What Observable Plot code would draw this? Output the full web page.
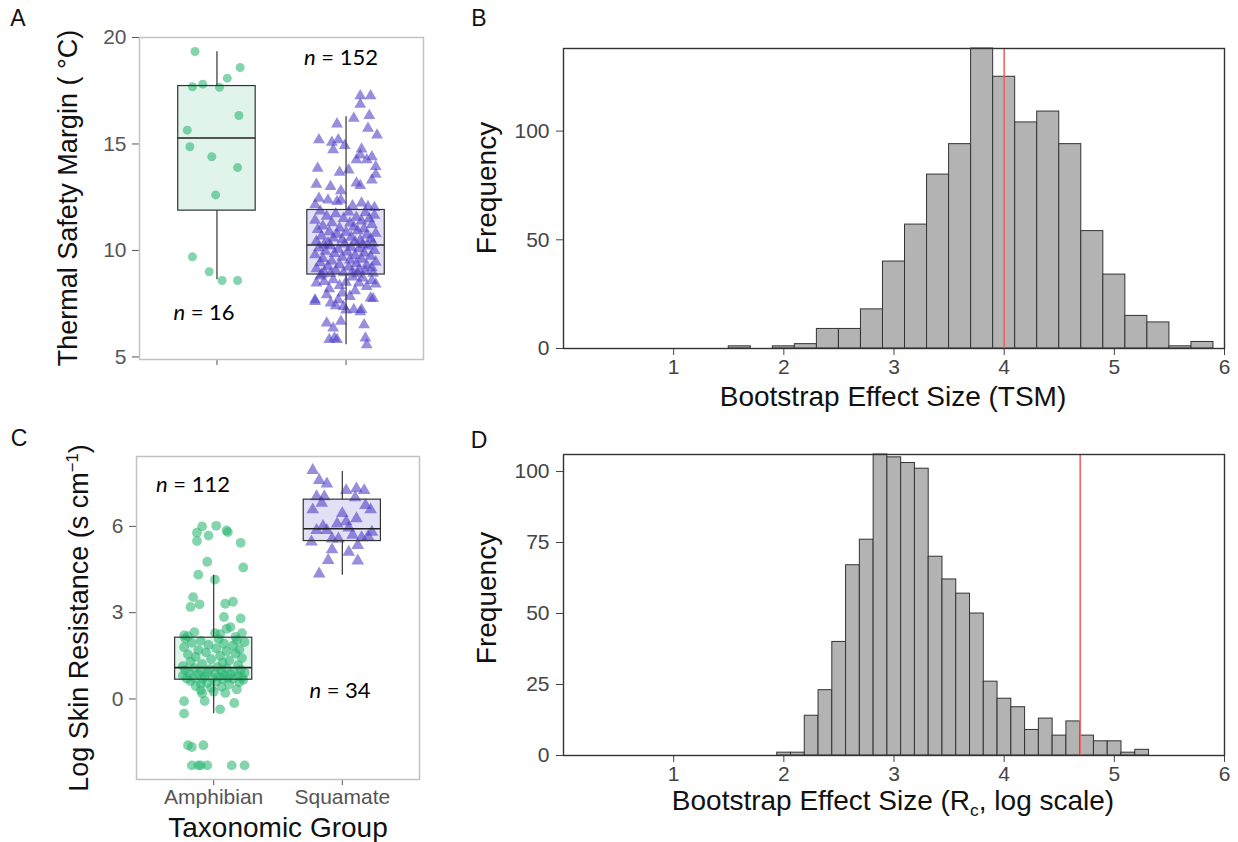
<!DOCTYPE html>
<html>
<head>
<meta charset="utf-8">
<script src="https://cdn.jsdelivr.net/npm/d3@7"></script>
<script src="https://cdn.jsdelivr.net/npm/@observablehq/plot@0.6"></script>
<style>
  html, body { margin: 0; padding: 0; background: #fff; }
  #root { position: relative; width: 1238px; height: 842px; overflow: hidden; }
  .panel { position: absolute; }
  .t { position: absolute; font-family: 'Liberation Sans', Arial, sans-serif; color: #111; white-space: nowrap;
       transform: translate(-50%, -50%); line-height: 1; }
  .rot { transform: translate(-50%, -50%) rotate(-90deg); }
  .n { font-family: Lato, 'Open Sans', sans-serif; font-size: 22px; color: #000; }
  sub, sup { font-size: 62%; }
</style>
</head>
<body>
<div id="root"></div>
<script>
// ---------------- DATA ----------------
const groups = ["Amphibian", "Squamate"];
const groupPos = [1, 2];

// Panel A: Thermal safety margin (°C) — box statistics
const tsmQ1 = [11.87, 8.87];
const tsmMedian = [15.28, 10.26];
const tsmQ3 = [17.72, 11.90];
const tsmLower = [8.62, 5.57];
const tsmUpper = [19.33, 16.28];
// [value, horizontal jitter]
const tsmAmphibian = [[19.34,-0.17],[17.81,-0.11],[17.69,-0.19],[17.66,0.02],[18.09,0.08],[18.59,0.18],[16.34,0.17],[15.65,-0.23],[14.87,-0.21],[14.40,-0.04],[13.89,0.16],[12.61,-0.01],[9.70,-0.19],[9.00,-0.06],[8.59,0.04],[8.59,0.16]];
const tsmSquamate = [
  [17.26,0.11],[17.26,0.19],[16.86,0.11],[16.33,0.18],[16.20,0.06],[15.94,-0.07],[15.73,0.17],[15.42,0.24],[15.19,-0.21],[15.08,-0.11],
  [15.19,-0.06],[14.92,-0.01],[14.72,-0.10],[14.76,0.12],[14.48,0.11],[14.25,0.08],[14.40,0.20],[14.25,0.16],[13.94,0.23],[13.86,-0.22],
  [13.67,-0.05],[13.78,0.02],[13.58,0.23],[13.31,0.20],[13.11,-0.23],[13.00,-0.12],[13.16,0.08],[13.05,0.11],[12.80,-0.04],[12.45,-0.21],
  [12.37,-0.14],[12.29,-0.07],[12.37,-0.04],[12.22,0.12],[12.14,-0.24],[12.06,0.17],[12.01,0.22],[12.10,0.05],
  [11.85,-0.20],[11.80,0.02],[11.78,0.15],[11.72,-0.08],[11.65,0.22],[11.60,-0.15],[11.55,0.08],[11.50,-0.02],[11.48,0.18],[11.42,-0.24],
  [11.38,0.12],[11.30,-0.11],[11.28,0.03],[11.22,0.20],[11.15,-0.18],[11.10,0.06],[11.05,-0.05],[11.02,0.14],[10.98,-0.22],[10.92,0.09],
  [10.88,-0.13],[10.85,0.00],[10.80,0.23],[10.76,-0.07],[10.72,0.16],[10.68,-0.19],[10.62,0.04],[10.58,-0.10],[10.55,0.19],[10.50,-0.03],
  [10.47,0.11],[10.43,-0.23],[10.40,0.07],[10.36,-0.14],[10.33,0.21],[10.30,-0.01],[10.28,0.13],[10.27,-0.17],
  [10.22,-0.12],[10.20,0.17],[10.15,0.04],[10.12,-0.21],[10.08,0.10],[10.05,-0.06],[10.00,0.22],[9.96,-0.16],[9.92,0.01],[9.88,0.14],
  [9.85,-0.09],[9.80,-0.24],[9.76,0.07],[9.72,0.19],[9.68,-0.03],[9.62,-0.18],[9.58,0.12],[9.55,0.03],[9.50,-0.11],[9.46,0.23],
  [9.42,-0.20],[9.38,0.08],[9.33,-0.05],[9.30,0.16],[9.25,-0.14],[9.22,0.02],[9.18,0.20],[9.14,-0.23],[9.10,0.10],[9.06,-0.08],
  [9.03,0.15],[9.00,-0.17],[8.98,0.05],[8.95,-0.02],[8.93,0.21],[8.91,-0.12],[8.90,0.09],[8.88,-0.19],
  [8.80,-0.20],[8.75,0.05],[8.70,0.13],[8.62,-0.10],[8.58,0.20],[8.54,-0.17],[8.50,0.00],[8.47,-0.23],[8.47,0.10],[8.42,0.23],
  [8.35,-0.05],[8.30,0.16],[8.20,-0.13],[8.10,0.07],[8.00,-0.03],[7.92,-0.15],[7.84,0.03],[7.76,0.19],[7.74,0.21],[7.68,-0.24],
  [7.68,-0.06],[7.60,-0.24],[7.53,-0.12],[7.40,-0.08],[7.37,-0.02],[7.22,0.06],[7.20,0.00],[7.12,0.11],[7.22,0.12],[6.67,-0.04],
  [6.59,-0.15],[6.51,0.14],[6.36,-0.10],[5.89,-0.09],[5.89,0.15],[5.81,-0.13],[5.81,-0.07],[5.57,0.16]
];

// Panel C: log skin resistance — box statistics
const rcQ1 = [0.67, 5.49];
const rcMedian = [1.09, 5.92];
const rcQ3 = [2.13, 6.93];
const rcLower = [-0.51, 4.30];
const rcUpper = [4.30, 7.91];
const rcAmphibian = [
  [6.00,-0.09],[6.02,0.02],[5.86,0.10],[5.78,-0.13],[5.68,-0.04],[5.80,0.11],[5.49,-0.13],[5.43,0.21],[4.77,-0.05],[4.57,0.23],
  [4.32,-0.12],[4.15,0.01],[3.54,-0.16],[3.20,-0.18],[3.29,-0.11],[3.31,0.09],[3.38,0.15],[2.85,0.08],[2.80,0.21],[2.32,-0.15],
  [2.21,-0.23],[2.29,0.01],[2.44,0.10],[2.50,0.13],[2.29,0.22],[2.18,-0.20],[2.25,0.05],[2.16,0.17],
  [2.10,-0.22],[2.08,0.04],[2.05,0.18],[2.02,-0.10],[1.98,0.24],[1.95,-0.17],[1.92,0.08],[1.88,-0.04],[1.85,0.15],[1.80,-0.23],
  [1.76,0.02],[1.72,0.20],[1.70,-0.12],[1.66,0.10],[1.62,-0.06],[1.58,0.17],[1.55,-0.20],[1.50,0.05],[1.46,-0.14],[1.42,0.22],
  [1.38,-0.02],[1.34,0.12],[1.30,-0.18],[1.26,0.07],[1.22,-0.09],[1.18,0.19],[1.14,-0.24],[1.11,0.03],
  [1.07,-0.15],[1.06,0.10],[1.04,-0.03],[1.02,0.21],[1.00,-0.22],[0.98,0.06],[0.96,-0.10],[0.95,0.16],[0.93,-0.05],[0.91,0.24],
  [0.90,-0.19],[0.88,0.01],[0.86,0.13],[0.85,-0.12],[0.83,0.08],[0.81,-0.24],[0.80,0.19],[0.78,-0.07],[0.77,0.04],[0.75,0.22],
  [0.74,-0.16],[0.73,0.11],[0.72,-0.01],[0.71,-0.21],[0.70,0.15],[0.69,-0.09],[0.68,0.07],[0.67,0.23],
  [0.62,-0.18],[0.60,0.02],[0.58,0.20],[0.55,-0.05],[0.53,-0.10],[0.50,0.12],[0.45,-0.14],[0.42,0.06],[0.38,-0.02],[0.33,0.18],
  [0.30,-0.10],[0.25,0.00],[0.19,-0.09],[0.21,0.09],[-0.08,-0.23],[-0.07,-0.07],[-0.14,0.16],[-0.36,0.05],[-0.51,-0.23],[-1.61,-0.20],
  [-1.67,-0.17],[-1.61,-0.08],[-2.31,-0.17],[-2.31,-0.12],[-2.31,-0.10],[-2.31,-0.05],[-2.31,0.14],[-2.31,0.24]
];
const rcSquamate = [
  [7.95,-0.23],[7.60,-0.18],[7.48,-0.12],[7.25,0.03],[7.31,0.11],[7.25,0.17],[7.04,-0.20],[7.04,-0.14],[6.81,-0.16],[7.00,0.10],
  [6.73,0.18],[6.58,0.22],[6.58,-0.23],[6.09,-0.04],[6.17,0.03],[6.27,0.11],[5.86,-0.20],[5.86,-0.12],[5.80,0.23],[5.57,-0.08],
  [5.57,-0.03],[5.46,-0.24],[5.61,0.15],[5.65,0.20],[5.34,0.12],[5.19,-0.08],[5.11,0.05],[4.82,-0.11],[4.80,0.12],[4.35,-0.18],
  [6.45,0.00],[5.95,0.05],[6.00,-0.15],[5.70,0.08]
];

// Panel B: bootstrap effect size (TSM)
const tsmBinEdges = [1.5,1.7,1.9,2.1,2.3,2.5,2.7,2.9,3.1,3.3,3.5,3.7,3.9,4.1,4.3,4.5,4.7,4.9,5.1,5.3,5.5,5.7,5.9];
const tsmCounts = [1,0,1,2,9,9,18,40,57,80,94,138,125,104,109,94,54,34,15,12,1,3];
const tsmObserved = 4.0;

// Panel D: bootstrap effect size (Rc, log scale)
const rcBinEdges = [1.94,2.065,2.19,2.315,2.44,2.565,2.69,2.815,2.94,3.065,3.19,3.315,3.44,3.565,3.69,3.815,3.94,4.065,4.19,4.315,4.44,4.565,4.69,4.815,4.94,5.065,5.19,5.315];
const rcCounts = [1,1,14,23,40,67,76,106,105,103,101,70,62,57,50,26,20,17,9,13,7,12,7,5,5,1,2];
const rcObserved = 4.69;

const effectTicks = [1, 2, 3, 4, 5, 6];
const tsmYTicks = [5, 10, 15, 20];
const rcYTicks = [0, 3, 6];
const tsmFreqTicks = [0, 50, 100];
const rcFreqTicks = [0, 25, 50, 75, 100];

// ---------------- DRAWING ----------------
const root = document.getElementById("root");
const GREEN = "#2bb771", PURPLE = "#4b3cc4";
const boxFills = ["#e0f4eb", "#e2e0f4"];
const ptColor = [GREEN, PURPLE];
const ptSymbol = ["circle", "triangle"];
const baseStyle = {fontFamily: "'Liberation Sans', Arial, sans-serif", background: "transparent", overflow: "visible"};

function place(el, left, top) {
  const wrap = document.createElement("div");
  wrap.className = "panel";
  wrap.style.left = left + "px";
  wrap.style.top = top + "px";
  wrap.appendChild(el);
  root.appendChild(wrap);
}
function label(html, cx, cy, size, cls = "") {
  const d = document.createElement("div");
  d.className = "t " + cls;
  d.style.left = cx + "px";
  d.style.top = cy + "px";
  if (size) d.style.fontSize = size + "px";
  d.innerHTML = html;
  root.appendChild(d);
}

function boxPanel({q1, med, q3, lo, hi, amph, squa, yDomain, yTicks, width, height, margins, xLabels, radii}) {
  const boxes = groups.map((g, i) => ({g, pos: groupPos[i], q1: q1[i], med: med[i], q3: q3[i], lo: lo[i], hi: hi[i], fill: boxFills[i]}));
  const pts = [amph, squa].map((arr, i) => arr.map(([v, j]) => ({i, x: groupPos[i] + j, v})));
  const half = 0.3;
  return Plot.plot({
    width, height, ...margins,
    style: {...baseStyle, fontSize: "21px", color: "#555"},
    x: {domain: [0.4, 2.6], ticks: groupPos, tickFormat: xLabels ? (d => groups[d - 1]) : (() => ""), tickSize: 6, tickPadding: 4, label: null},
    y: {domain: yDomain, ticks: yTicks, tickSize: 7, tickPadding: 6, label: null},
    marks: [
      Plot.rect(boxes, {x1: d => d.pos - half, x2: d => d.pos + half, y1: "q1", y2: "q3", fill: "fill"}),
      ...pts.map((p, i) => Plot.dot(p, {x: "x", y: "v", r: radii[i], symbol: ptSymbol[i], fill: ptColor[i], fillOpacity: 0.58, stroke: "none"})),
      Plot.ruleX(boxes, {x: "pos", y1: "lo", y2: "q1", stroke: "#333", strokeWidth: 1.2}),
      Plot.ruleX(boxes, {x: "pos", y1: "q3", y2: "hi", stroke: "#333", strokeWidth: 1.2}),
      Plot.rect(boxes, {x1: d => d.pos - half, x2: d => d.pos + half, y1: "q1", y2: "q3", fill: "none", stroke: "#333", strokeWidth: 1.2}),
      Plot.ruleY(boxes, {y: "med", x1: d => d.pos - half, x2: d => d.pos + half, stroke: "#222", strokeWidth: 1.6}),
      Plot.frame({stroke: "#c2c2c2", strokeWidth: 1.5})
    ]
  });
}

function histPanel({edges, counts, observed, yMax, yTicks, width, height, margins}) {
  const bins = counts.map((c, i) => ({x1: edges[i], x2: edges[i + 1], c}));
  return Plot.plot({
    width, height, ...margins,
    style: {...baseStyle, fontSize: "21px", color: "#444"},
    x: {domain: [0, 6], ticks: effectTicks, tickFormat: d => String(d), tickSize: 7, tickPadding: 4, label: null},
    y: {domain: [0, yMax], ticks: yTicks, tickFormat: d => String(d), tickSize: 7, tickPadding: 7, label: null},
    marks: [
      Plot.rect(bins, {x1: "x1", x2: "x2", y1: 0, y2: "c", fill: "#b3b3b3", stroke: "#333", strokeWidth: 1}),
      Plot.ruleX([observed], {stroke: "#f06464", strokeWidth: 1.6}),
      Plot.frame({stroke: "#333", strokeWidth: 1.4})
    ]
  });
}

// Panel A
place(boxPanel({q1: tsmQ1, med: tsmMedian, q3: tsmQ3, lo: tsmLower, hi: tsmUpper, amph: tsmAmphibian, squa: tsmSquamate,
  yDomain: [4.88, 20], yTicks: tsmYTicks, width: 440, height: 380, radii: [4.5, 4.4],
  margins: {marginLeft: 139, marginRight: 17, marginTop: 37, marginBottom: 21}, xLabels: false}), 0, 0);
// Panel C
place(boxPanel({q1: rcQ1, med: rcMedian, q3: rcQ3, lo: rcLower, hi: rcUpper, amph: rcAmphibian, squa: rcSquamate,
  yDomain: [-2.80, 8.43], yTicks: rcYTicks, width: 440, height: 422, radii: [4.9, 4.7],
  margins: {marginLeft: 136, marginRight: 21, marginTop: 36, marginBottom: 63}, xLabels: true}), 0, 420);
// Panel B
place(histPanel({edges: tsmBinEdges, counts: tsmCounts, observed: tsmObserved, yMax: 138, yTicks: tsmFreqTicks,
  width: 768, height: 420, margins: {marginLeft: 93, marginRight: 14, marginTop: 48, marginBottom: 72}}), 470, 0);
// Panel D
place(histPanel({edges: rcBinEdges, counts: rcCounts, observed: rcObserved, yMax: 106, yTicks: rcFreqTicks,
  width: 768, height: 422, margins: {marginLeft: 93, marginRight: 14, marginTop: 34, marginBottom: 87}}), 470, 420);

// Text
label("A", 18, 18, 23);
label("B", 479, 18, 23);
label("C", 19, 438, 23);
label("D", 479, 440, 23);
label("Thermal Safety Margin ( °C)", 68, 198, 27, "rot");
label("Log Skin Resistance (s cm<sup>−1</sup>)", 79, 618, 27, "rot");
label("Frequency", 487, 188, 28, "rot");
label("Frequency", 487, 598, 28, "rot");
label("Bootstrap Effect Size (TSM)", 893, 397, 28);
label("Bootstrap Effect Size (R<sub>c</sub>, log scale)", 893, 803, 28);
label("Taxonomic Group", 278, 828, 28);
label("<i>n</i> = 152", 341, 57, 22, "n");
label("<i>n</i> = 16", 204, 312, 22, "n");
label("<i>n</i> = 112", 193, 484, 22, "n");
label("<i>n</i> = 34", 340, 690, 22, "n");
</script>
</body>
</html>
